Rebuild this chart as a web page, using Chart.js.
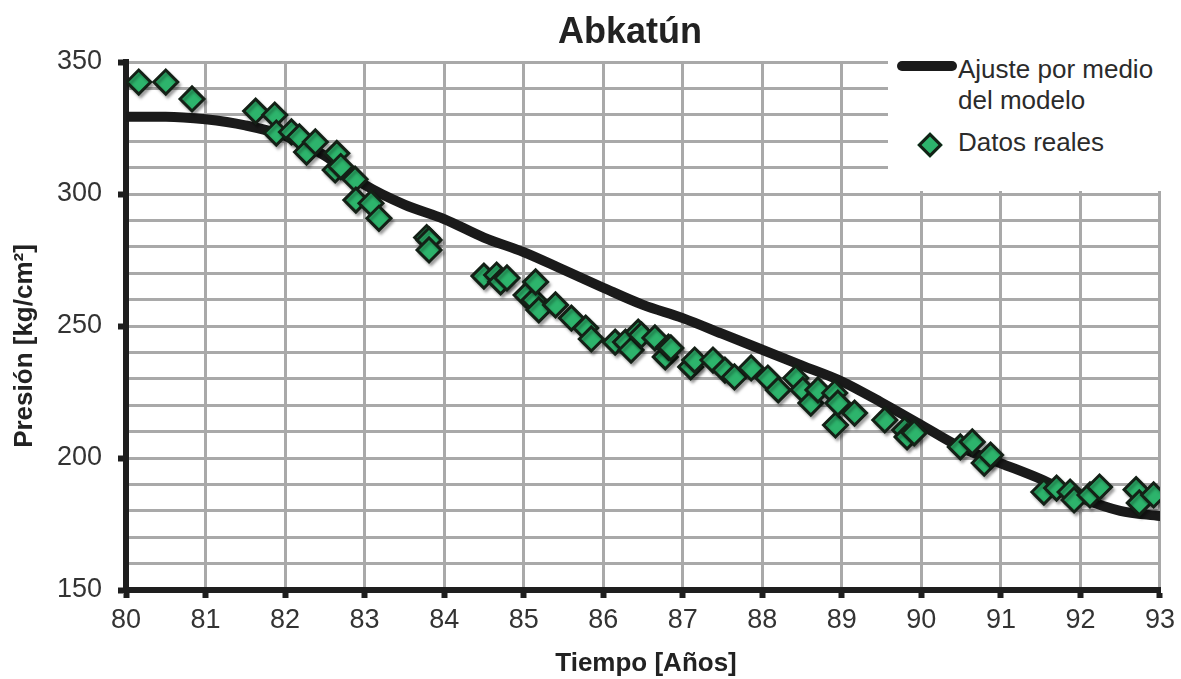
<!DOCTYPE html>
<html>
<head>
<meta charset="utf-8">
<script src="https://cdn.jsdelivr.net/npm/chart.js@4.4.1/dist/chart.umd.min.js"></script>
<style>
  body { margin: 0; background: #fff; }
  #wrap { position: relative; width: 1181px; height: 679px; }
  #legend {
    position: absolute; left: 888px; top: 40px; width: 293px; height: 151px;
    background: #fff; font-family: "Liberation Sans", Arial, sans-serif;
    font-size: 26px; color: #2b2b2b;
  }
  #legend .line { position: absolute; left: 9px; top: 21px; width: 60px; height: 10px; background: #1a1a1a; border-radius: 5px; }
  #legend .t1 { position: absolute; left: 70px; top: 14px; line-height: 31px; }
  #legend .dia { position: absolute; left: 33px; top: 96px; width: 12px; height: 12px; background: #2db46c; border: 3px solid #142016; transform: rotate(45deg); }
  #legend .t2 { position: absolute; left: 70px; top: 87px; line-height: 31px; }
</style>
</head>
<body>
<div id="wrap">
  <canvas id="chart" width="1181" height="679"></canvas>
  <div id="legend">
    <div class="line"></div>
    <div class="t1">Ajuste por medio<br>del modelo</div>
    <div class="dia"></div>
    <div class="t2">Datos reales</div>
  </div>
</div>
<script>
// Measured pressure points (year, kg/cm2)
const realYears = [80.16, 80.5, 80.83, 81.63, 81.87, 81.89, 82.08, 82.18, 82.27, 82.38, 82.63, 82.65, 82.7, 82.88, 82.89, 83.08, 83.18, 83.78, 83.81, 83.81,
  84.5, 84.66, 84.71, 84.79, 85.03, 85.13, 85.15, 85.19, 85.4, 85.6, 85.78, 85.85, 86.15, 86.28, 86.35, 86.44, 86.48, 86.65, 86.78, 86.82, 86.85,
  87.1, 87.15, 87.38, 87.53, 87.65, 87.86, 88.07, 88.2, 88.42, 88.51, 88.61, 88.7, 88.91, 88.92, 88.95, 89.16, 89.54, 89.79, 89.82, 89.91,
  90.49, 90.64, 90.79, 90.87, 91.54, 91.7, 91.87, 91.92, 92.12, 92.24, 92.7, 92.74, 92.92];
const realPressure = [342.4, 342.4, 336, 331.4, 329.9, 323.1, 323.5, 321.6, 315.9, 319.7, 309.1, 315.4, 310.4, 305.6, 297.7, 296.5, 290.8, 283.5, 282.6, 278.8,
  268.9, 269.3, 266.7, 268.2, 261.7, 259.8, 266.7, 256.1, 258, 253, 249.2, 245.1, 243.9, 243.9, 240.9, 247.7, 246.6, 245.5, 238.3, 242, 241.7,
  234.5, 237.1, 237.1, 233.3, 230.7, 234.1, 230.3, 225.8, 230.3, 225.8, 220.8, 225.8, 224.6, 212.5, 220.8, 217, 214.4, 210.6, 208, 209.5,
  204.2, 206.1, 198.1, 201.1, 187.1, 188.6, 187.1, 184.1, 186, 189, 188, 183, 186];

// Model fit curve
const modelYears = [80, 80.5, 81, 81.5, 82, 82.5, 83, 83.5, 84, 84.5, 85, 85.5, 86, 86.5, 87, 87.5, 88, 88.5, 89, 89.5, 90, 90.5, 91, 91.5, 92, 92.5, 93];
const modelPressure = [329.3, 329.3, 328.3, 326, 322, 314.5, 303.5, 296, 290.5, 283.5, 278, 271.3, 264.5, 258, 253, 247, 241, 235, 229, 221, 212.5, 204, 198, 192, 185, 180, 178];

const FONT = '"Liberation Sans", Arial, sans-serif';

// Title and axis titles at fixed positions
const textPlugin = {
  id: 'texts',
  afterDraw(chart) {
    const ctx = chart.ctx;
    ctx.save();
    ctx.fillStyle = '#222';
    ctx.textAlign = 'center';
    ctx.textBaseline = 'middle';
    ctx.font = 'bold 36px ' + FONT;
    ctx.fillText('Abkatún', 630, 33);
    ctx.font = 'bold 26px ' + FONT;
    ctx.fillText('Tiempo [Años]', 646, 664);
    ctx.translate(25, 346);
    ctx.rotate(-Math.PI / 2);
    ctx.fillText('Presión [kg/cm²]', 0, 0);
    ctx.restore();
  }
};

// soft drop shadow under the diamonds
const shadowPlugin = {
  id: 'shadow',
  beforeDatasetDraw(chart, args) {
    if (args.index !== 0) return;
    const ctx = chart.ctx;
    ctx.save();
    ctx.shadowColor = 'rgba(0,0,0,0.3)';
    ctx.shadowOffsetX = 2;
    ctx.shadowOffsetY = 3;
    ctx.shadowBlur = 3;
  },
  afterDatasetDraw(chart, args) {
    if (args.index === 0) chart.ctx.restore();
  }
};

new Chart(document.getElementById('chart'), {
  type: 'scatter',
  data: {
    datasets: [
      {
        label: 'Datos reales',
        data: realYears.map((x, i) => ({ x, y: realPressure[i] })),
        pointStyle: 'rectRot',
        pointRadius: 12,
        backgroundColor: '#2db46c',
        borderColor: '#142016',
        borderWidth: 3,
      },
      {
        label: 'Ajuste por medio del modelo',
        data: modelYears.map((x, i) => ({ x, y: modelPressure[i] })),
        showLine: true,
        pointRadius: 0,
        borderColor: '#1a1a1a',
        borderWidth: 10,
        borderCapStyle: 'round',
        cubicInterpolationMode: 'monotone',
      }
    ]
  },
  options: {
    responsive: false,
    animation: false,
    layout: { padding: { left: 0, right: 18, top: 62, bottom: 0 } },
    plugins: { legend: { display: false }, tooltip: { enabled: false } },
    scales: {
      x: {
        type: 'linear', min: 80, max: 93,
        afterFit: s => { s.height = 89; },
        border: { color: '#1e1e1e', width: 6 },
        grid: { color: '#a9a9a9', lineWidth: 3, tickColor: '#1e1e1e', tickWidth: 6, tickLength: 8 },
        ticks: { stepSize: 1, autoSkip: false, maxRotation: 0, padding: 6, color: '#333', font: { family: FONT, size: 27 } }
      },
      y: {
        type: 'linear', min: 150, max: 350,
        afterFit: s => { s.width = 126; },
        border: { color: '#1e1e1e', width: 6 },
        grid: {
          color: '#a9a9a9', lineWidth: 3, tickWidth: 6, tickLength: 8,
          tickColor: c => (c.tick && c.tick.value % 50 === 0) ? '#1e1e1e' : 'rgba(0,0,0,0)'
        },
        ticks: {
          stepSize: 10, autoSkip: false, padding: 16, color: '#333', font: { family: FONT, size: 27 },
          callback: v => v % 50 === 0 ? v : ''
        }
      }
    }
  },
  plugins: [textPlugin, shadowPlugin]
});
</script>
</body>
</html>
